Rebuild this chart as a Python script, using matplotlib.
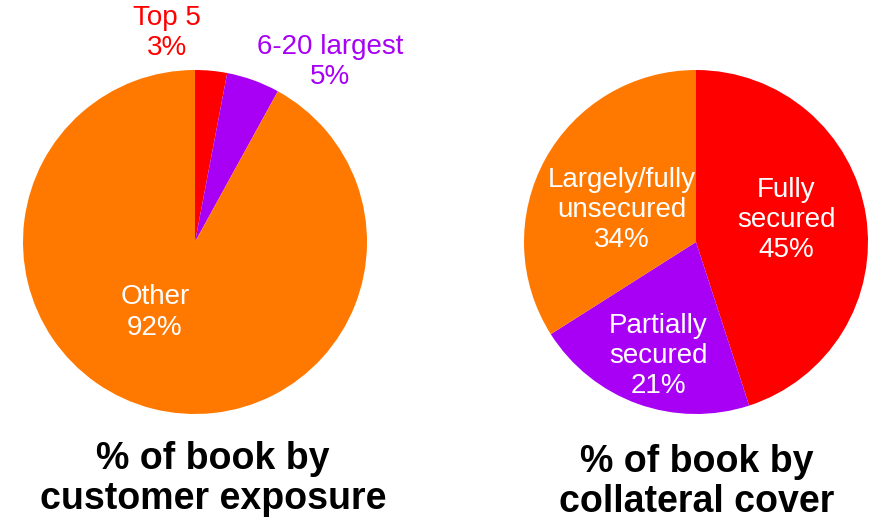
import matplotlib
matplotlib.use("Agg")
import matplotlib.pyplot as plt

plt.rcParams['font.family'] = ['Liberation Sans', 'DejaVu Sans']

# data
exp_labels = ['Top 5', '6-20 largest', 'Other']
exp_values = [3, 5, 92]
col_labels = ['Fully\nsecured', 'Partially\nsecured', 'Largely/fully\nunsecured']
col_values = [45, 21, 34]

RED = '#FF0000'
PURPLE = '#A800F5'
ORANGE = '#FF7800'
colors = [RED, PURPLE, ORANGE]

fig = plt.figure(figsize=(8.72, 5.2), dpi=100)

# left pie: customer exposure
ax1 = fig.add_axes([23 / 872, 106 / 520, 344 / 872, 344 / 520])
ax1.pie(exp_values, colors=colors, startangle=90, counterclock=False,
        radius=1, wedgeprops=dict(linewidth=0))
ax1.set_xlim(-1, 1)
ax1.set_ylim(-1, 1)
ax1.axis('off')

# label spots (relative to pie radius)
exp_pos = [(-0.163, 1.215), (0.785, 1.045), (-0.233, -0.41)]
exp_txtcol = [RED, PURPLE, 'white']
for lab, v, (x, y), c in zip(exp_labels, exp_values, exp_pos, exp_txtcol):
    ax1.text(x, y, f'{lab}\n{v}%', ha='center', va='center', fontsize=20,
             color=c, linespacing=1.22, clip_on=False)

# right pie: collateral cover
ax2 = fig.add_axes([524 / 872, 106 / 520, 344 / 872, 344 / 520])
ax2.pie(col_values, colors=colors, startangle=90, counterclock=False,
        radius=1, wedgeprops=dict(linewidth=0))
ax2.set_xlim(-1, 1)
ax2.set_ylim(-1, 1)
ax2.axis('off')

col_pos = [(0.523, 0.128), (-0.221, -0.663), (-0.43, 0.186)]
for lab, v, (x, y) in zip(col_labels, col_values, col_pos):
    ax2.text(x, y, f'{lab}\n{v}%', ha='center', va='center', fontsize=20,
             color='white', linespacing=1.18, clip_on=False)

# titles below each pie
fig.text(213 / 872, 1 - 479 / 520, '% of book by\ncustomer exposure',
         ha='center', va='center', fontsize=27, fontweight='bold',
         linespacing=1.17)
fig.text(697 / 872, 1 - 482 / 520, '% of book by\ncollateral cover',
         ha='center', va='center', fontsize=27, fontweight='bold',
         linespacing=1.17)

fig.savefig('out.png', dpi=100)
